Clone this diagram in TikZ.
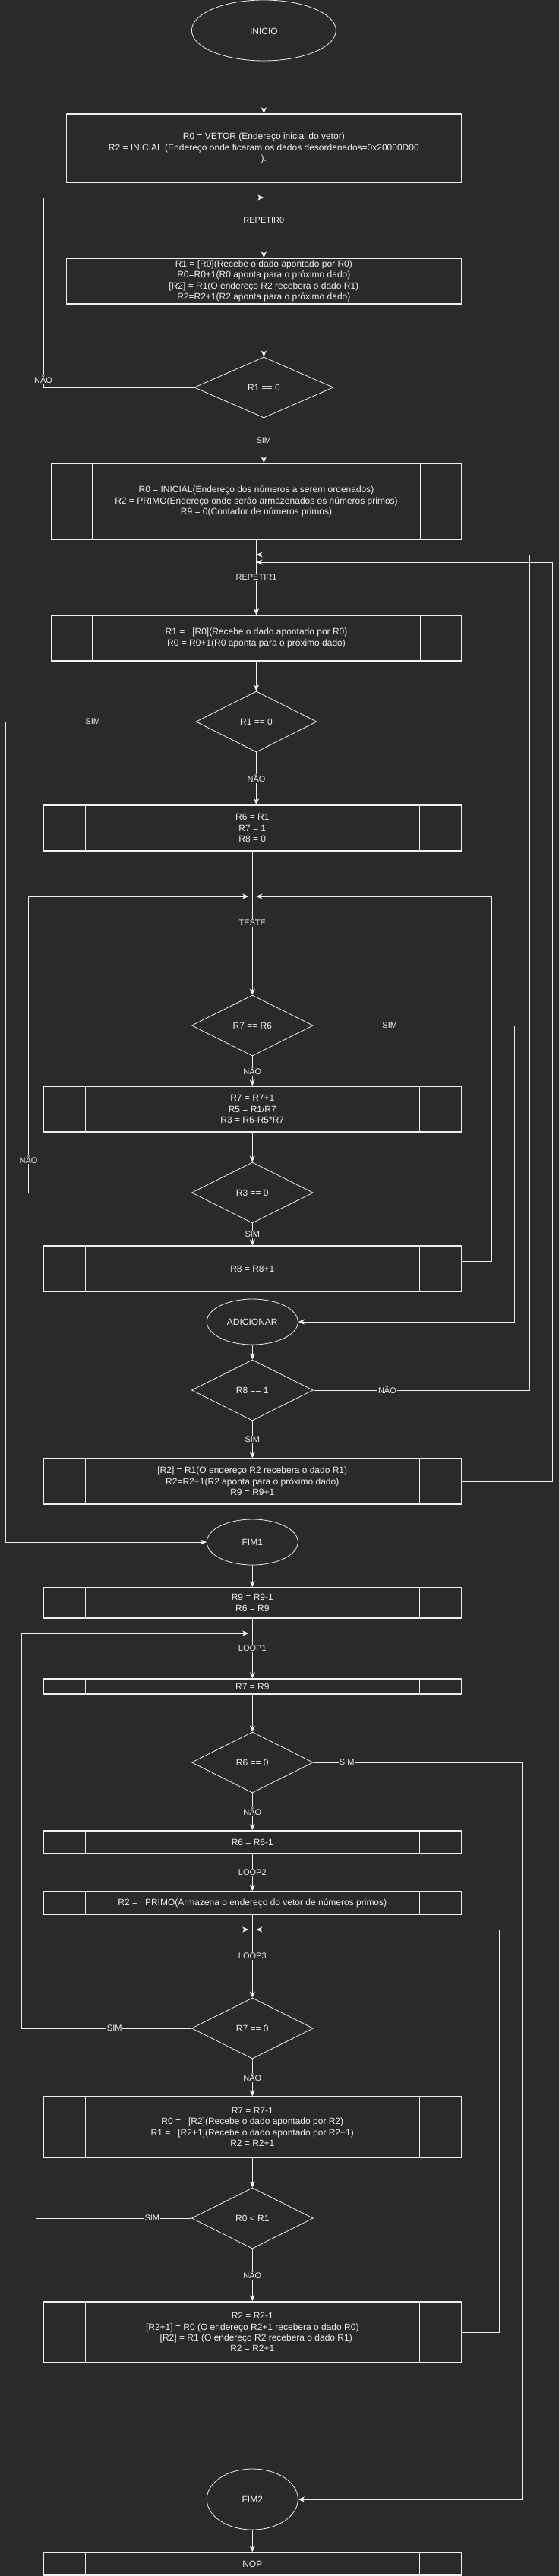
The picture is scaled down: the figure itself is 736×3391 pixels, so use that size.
\documentclass[tikz,border=0pt]{standalone}
\usepackage{fontspec}
\setmainfont{Liberation Sans}
\usetikzlibrary{shapes.geometric,arrows.meta,calc}
\definecolor{bgc}{HTML}{2A2A2A}
\definecolor{fgc}{HTML}{F0F0F0}

\begin{document}
\begin{tikzpicture}[x=1pt,y=-1pt,color=fgc,line width=1pt,
  >={Stealth[length=8pt,width=7pt,inset=2pt]},
  font=\fontsize{12}{14.4}\selectfont,
  term/.style={ellipse,draw,line width=0.8pt,inner sep=0pt},
  cond/.style={diamond,draw,line width=0.8pt,inner sep=0pt,minimum width=160pt,minimum height=80pt},
  subr/.style={rectangle,draw,line width=1.2pt,inner sep=0pt,align=center,minimum width=550.2pt,
    path picture={\draw[line width=1pt]
      ($(path picture bounding box.south west)!0.1!(path picture bounding box.south east)$) --
      ($(path picture bounding box.north west)!0.1!(path picture bounding box.north east)$)
      ($(path picture bounding box.south west)!0.9!(path picture bounding box.south east)$) --
      ($(path picture bounding box.north west)!0.9!(path picture bounding box.north east)$);}},
  lbl/.style={fill=bgc,inner sep=1pt,font=\fontsize{11}{13}\selectfont}]
\useasboundingbox (0,0) rectangle (736,3391);
\fill[bgc] (0,0) rectangle (736,3391);
%% nodes
\node[term,minimum width=190pt,minimum height=80pt] (INI) at (347.35,40) {INÍCIO};
\node[subr,minimum width=520.1pt,minimum height=90pt] (VET) at (347.35,195) {R0 = VETOR (Endereço inicial do vetor)\\R2 = INICIAL (Endereço onde ficaram os dados desordenados=0x20000D00\\).};
\node[subr,minimum width=520.1pt,minimum height=60pt] (COP) at (347.35,370) {R1 = [R0](Recebe o dado apontado por R0)\\R0=R0+1(R0 aponta para o próximo dado)\\{[R2]} = R1(O endereço R2 recebera o dado R1)\\R2=R2+1(R2 aponta para o próximo dado)};
\node[cond,minimum width=183pt] (Z0) at (347.35,510) {R1 == 0};
\node[subr,minimum width=539.8pt,minimum height=100pt] (ORD) at (337.5,660) {R0 = INICIAL(Endereço dos números a serem ordenados)\\R2 = PRIMO(Endereço onde serão armazenados os números primos)\\R9 = 0(Contador de números primos)};
\node[subr,minimum width=539.8pt,minimum height=60pt] (LD) at (337.5,840) {R1 =\ \ \ [R0](Recebe o dado apontado por R0)\\R0 = R0+1(R0 aponta para o próximo dado)};
\node[cond,minimum width=159pt] (Z1) at (337.5,950) {R1 == 0};
\node[subr,minimum height=60pt] (SET) at (332.3,1090) {R6 = R1\\R7 = 1\\R8 = 0};
\node[cond] (EQ) at (332.3,1350) {R7 == R6};
\node[subr,minimum height=60pt] (DIV) at (332.3,1460) {R7 = R7+1\\R5 = R1/R7\\R3 = R6-R5*R7};
\node[cond] (RZ) at (332.3,1570) {R3 == 0};
\node[subr,minimum height=60pt] (INC) at (332.3,1670) {R8 = R8+1};
\node[term,minimum width=120pt,minimum height=60pt] (ADD) at (332.3,1740) {ADICIONAR};
\node[cond] (ONE) at (332.3,1830) {R8 == 1};
\node[subr,minimum height=60pt] (SAV) at (332.3,1950) {{[R2]} = R1(O endereço R2 recebera o dado R1)\\R2=R2+1(R2 aponta para o próximo dado)\\R9 = R9+1};
\node[term,minimum width=120pt,minimum height=60pt] (FIM1) at (332.3,2030) {FIM1};
\node[subr,minimum height=40pt] (DEC) at (332.3,2110) {R9 = R9-1\\R6 = R9};
\node[subr,minimum height=20pt] (CNT) at (332.3,2220) {R7 = R9};
\node[cond] (Z6) at (332.3,2320) {R6 == 0};
\node[subr,minimum height=30pt] (DEC6) at (332.3,2425) {R6 = R6-1};
\node[subr,minimum height=30pt] (PRM) at (332.3,2505) {R2 =\ \ \ PRIMO(Armazena o endereço do vetor de números primos)};
\node[cond] (Z7) at (332.3,2670) {R7 == 0};
\node[subr,minimum height=80pt] (RD) at (332.3,2800) {R7 = R7-1\\R0 =\ \ \ [R2](Recebe o dado apontado por R2)\\R1 =\ \ \ [R2+1](Recebe o dado apontado por R2+1)\\R2 = R2+1};
\node[cond] (LT) at (332.3,2920) {R0 < R1};
\node[subr,minimum height=80pt] (SWP) at (332.3,3070) {R2 = R2-1\\{[R2+1]} = R0 (O endereço R2+1 recebera o dado R0)\\\ \ \ [R2] = R1 (O endereço R2 recebera o dado R1)\\R2 = R2+1};
\node[term,minimum width=120pt,minimum height=80pt] (FIM2) at (332.3,3290) {FIM2};
\node[subr,minimum height=30pt] (NOP) at (332.3,3375) {NOP};
%% joints
\coordinate (REP0) at (347.35,260);
\coordinate (REP1a) at (337.5,730);
\coordinate (REP1b) at (337.5,740);
\coordinate (TST) at (332.3,1180);
\coordinate (LP1) at (332.3,2150);
\coordinate (LP3) at (332.3,2540);
\coordinate (N0) at (57,260);
\coordinate (S1) at (7,2030);
\coordinate (S2) at (677.3,1740);
\coordinate (N3) at (37.5,1180);
\coordinate (INCr) at (647.7,1180);
\coordinate (N5) at (697,730);
\coordinate (SAVr) at (727,740);
\coordinate (S6) at (687.5,3290);
\coordinate (S7) at (28,2150);
\coordinate (S8) at (47.4,2540);
\coordinate (SWPr) at (657,2540);
%%% edges
\draw[->] (INI) -- (VET);
\draw[->] (VET) -- node[lbl] {REPETIR0} (COP);
\draw[->] (COP) -- (Z0);
\draw[->] (Z0.west) -| node[lbl,pos=0.52] {NÃO} (N0) -- (REP0);
\draw[->] (Z0.south) -- node[lbl] {SIM} (Z0.south |- ORD.north);
\draw[->] (ORD) -- node[lbl] {REPETIR1} (LD);
\draw[->] (LD) -- (Z1);
\draw[->] (Z1.west) -| node[lbl,pos=0.27] {SIM} (S1) -- (FIM1);
\draw[->] (Z1.south) -- node[lbl] {NÃO} (Z1.south |- SET.north);
\draw[->] (SET) -- node[lbl] {TESTE} (EQ);
\draw[->] (EQ) -- node[lbl] {NÃO} (DIV);
\draw[->] (EQ.east) -| node[lbl,pos=0.19] {SIM} (S2) -- (ADD);
\draw[->] (DIV) -- (RZ);
\draw[->,shorten >=5pt] (RZ.west) -| node[lbl,pos=0.556] {NÃO} (N3) -- (TST);
\draw[->] (RZ) -- node[lbl] {SIM} (INC);
\draw[->,shorten >=5pt] ([yshift=10pt]INC.east) -| (INCr) -- (TST);
\draw[->] (ADD) -- (ONE);
\draw[->] (ONE.east) -| node[lbl,pos=0.171] {NÃO} (N5) -- (REP1a);
\draw[->] (ONE) -- node[lbl] {SIM} (SAV);
\draw[->] (SAV.east) -| (SAVr) -- (REP1b);
\draw[->] (FIM1) -- (DEC);
\draw[->] (DEC) -- node[lbl] {LOOP1} (CNT);
\draw[->] (CNT) -- (Z6);
\draw[->] (Z6.east) -| node[lbl,pos=0.08] {SIM} (S6) -- (FIM2);
\draw[->] (Z6) -- node[lbl] {NÃO} (DEC6);
\draw[->] (DEC6) -- node[lbl] {LOOP2} (PRM);
\draw[->] (PRM) -- node[lbl] {LOOP3} (Z7);
\draw[->,shorten >=5pt] (Z7.west) -| node[lbl,pos=0.226] {SIM} (S7) -- (LP1);
\draw[->] (Z7) -- node[lbl] {NÃO} (RD);
\draw[->] (RD) -- (LT);
\draw[->,shorten >=5pt] (LT.west) -| node[lbl,pos=0.126] {SIM} (S8) -- (LP3);
\draw[->] (LT) -- node[lbl] {NÃO} (SWP);
\draw[->,shorten >=5pt] (SWP.east) -| (SWPr) -- (LP3);
\draw[->] (FIM2) -- (NOP);
\end{tikzpicture}
\end{document}
